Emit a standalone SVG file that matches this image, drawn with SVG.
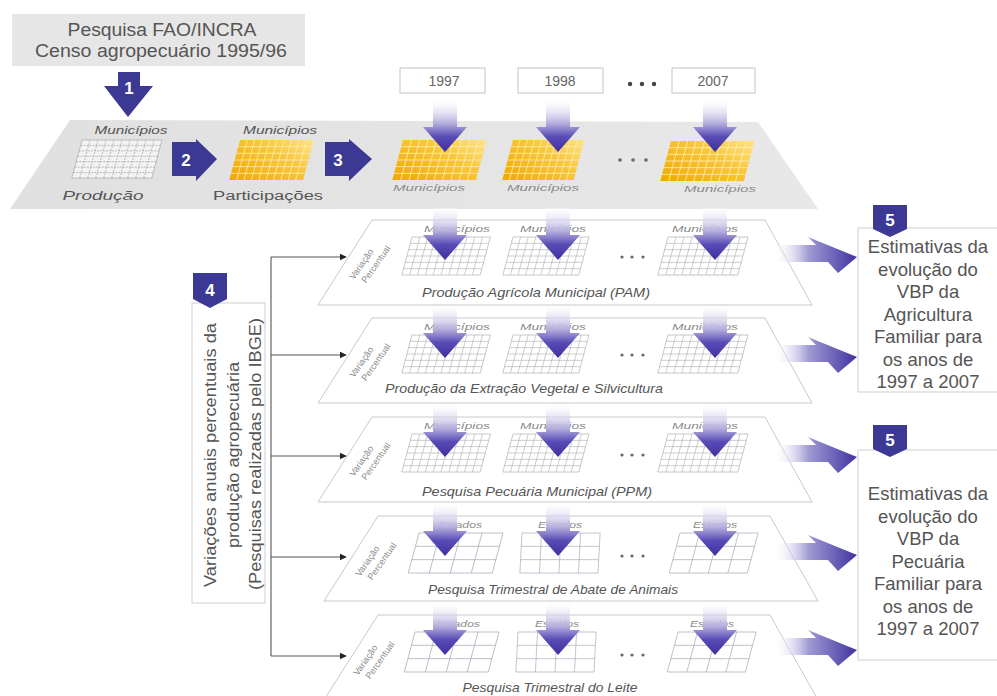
<svg xmlns="http://www.w3.org/2000/svg" xmlns:xlink="http://www.w3.org/1999/xlink" width="997" height="696" viewBox="0 0 997 696">
<style>
text{font-family:"Liberation Sans",Arial,sans-serif;fill:#555}
.num{font-weight:bold;fill:#fff;font-size:17px;text-anchor:middle}
.blk{fill:#3b3994}
.plane{fill:#fff;stroke:#c9c9c9;stroke-width:1}
.lbl{font-style:italic;font-size:13px;text-anchor:middle;fill:#555}
.sm{font-style:italic;font-size:8.5px;text-anchor:middle;fill:#8a8a8a}
.vp{font-size:9px;fill:#8a8a8a}
.yr{fill:#fff;stroke:#c4c4c4;stroke-width:1}
.yrt{font-size:14px;text-anchor:middle;fill:#666}
.box{fill:#fff;stroke:#cfcfcf;stroke-width:1}
.bt{font-size:18.5px;text-anchor:middle;fill:#555}
.con{stroke:#555;stroke-width:1.1;fill:none}
.dot{fill:#666}
</style>
<defs>
<linearGradient id="gDown" x1="0" y1="0" x2="0" y2="1">
<stop offset="0" stop-color="#ffffff" stop-opacity="0.3"/>
<stop offset="0.45" stop-color="#b4aedd"/>
<stop offset="0.7" stop-color="#5a4cb6"/>
<stop offset="1" stop-color="#3e2f9f"/>
</linearGradient>
<linearGradient id="gRight" x1="0" y1="0" x2="1" y2="0">
<stop offset="0" stop-color="#ffffff" stop-opacity="0.2"/>
<stop offset="0.4" stop-color="#a19bd4"/>
<stop offset="1" stop-color="#3f32a0"/>
</linearGradient>
<linearGradient id="gOrange" x1="0" y1="1" x2="1" y2="0">
<stop offset="0" stop-color="#f0a800"/>
<stop offset="0.6" stop-color="#f8c63a"/>
<stop offset="1" stop-color="#ffe38a"/>
</linearGradient>
<linearGradient id="gPlane" x1="0" y1="0" x2="1" y2="0">
<stop offset="0" stop-color="#e0e0e0"/>
<stop offset="1" stop-color="#e8e8e8"/>
</linearGradient>
<g id="fineGrid">
<rect x="0" y="0" width="80" height="38" fill="#fff" stroke="#a8a8a8" stroke-width="0.6"/>
<path d="M8 0V38M16 0V38M24 0V38M32 0V38M40 0V38M48 0V38M56 0V38M64 0V38M72 0V38M0 6.33H80M0 12.67H80M0 19H80M0 25.33H80M0 31.67H80" stroke="#b0b0b0" stroke-width="0.6" fill="none"/>
</g>
<g id="grayGrid">
<rect x="0" y="0" width="80" height="38" fill="#f3f3f3" stroke="#a0a0a0" stroke-width="0.6"/>
<path d="M8 0V38M16 0V38M24 0V38M32 0V38M40 0V38M48 0V38M56 0V38M64 0V38M72 0V38M0 5.43H80M0 10.86H80M0 16.29H80M0 21.71H80M0 27.14H80M0 32.57H80" stroke="#9c9c9c" stroke-width="0.6" stroke-dasharray="2 1" fill="none"/>
</g>
<g id="orangeGrid">
<rect x="0" y="0" width="82" height="40" fill="url(#gOrange)"/>
<path d="M8.2 0V40M16.4 0V40M24.6 0V40M32.8 0V40M41 0V40M49.2 0V40M57.4 0V40M65.6 0V40M73.8 0V40M0 6.67H82M0 13.33H82M0 20H82M0 26.67H82M0 33.33H82" stroke="#ffeeb0" stroke-width="0.8" fill="none"/>
</g>
<g id="coarseGrid">
<rect x="0" y="0" width="84" height="40" fill="#fff" stroke="#a8a8b8" stroke-width="0.7"/>
<path d="M21 0V40M42 0V40M63 0V40M0 13.33H84M0 26.67H84" stroke="#a8a8b8" stroke-width="0.7" fill="none"/>
</g>
<g id="dArrow"><polygon points="-12,0 12,0 12,27 22,27 0,52 -22,27 -12,27" fill="url(#gDown)"/></g>
<g id="rArrow"><path d="M776 -12 L816 -12 L808 -20 L857 0 L838 16 L828 5 L776 5 Z" fill="url(#gRight)"/></g>
<g id="vpLabel"><text class="vp" transform="rotate(-55)"><tspan x="0" y="0">Variação</tspan><tspan x="4" y="12">Percentual</tspan></text></g>
<marker id="ah" viewBox="0 0 10 10" refX="9" refY="5" markerWidth="7" markerHeight="7" orient="auto" markerUnits="userSpaceOnUse">
<path d="M0 0L10 5L0 10Z" fill="#222"/>
</marker>
</defs>

<g id="source">
<rect x="12" y="14" width="293" height="52" fill="#e6e6e6"/>
<text x="162" y="36" font-size="17.5" text-anchor="middle" fill="#5a5a5a" textLength="189" lengthAdjust="spacingAndGlyphs">Pesquisa FAO/INCRA</text>
<text x="161" y="57" font-size="17.5" text-anchor="middle" fill="#5a5a5a" textLength="252" lengthAdjust="spacingAndGlyphs">Censo agropecuário 1995/96</text>
</g>

<g id="top-plane">
<polygon points="70,120 758,122 818,209 10,209" fill="url(#gPlane)"/>
<use xlink:href="#grayGrid" href="#grayGrid" transform="translate(82,140) skewX(-15)"/>
<text x="131" y="134" font-size="11" font-style="italic" text-anchor="middle" fill="#606060" textLength="73" lengthAdjust="spacingAndGlyphs">Municípios</text>
<text x="103" y="200" font-size="12" font-style="italic" text-anchor="middle" fill="#606060" textLength="81" lengthAdjust="spacingAndGlyphs">Produção</text>
<use xlink:href="#orangeGrid" href="#orangeGrid" transform="translate(240,140) skewX(-15) scale(0.9,1)"/>
<text x="280" y="134" font-size="11" font-style="italic" text-anchor="middle" fill="#606060" textLength="74" lengthAdjust="spacingAndGlyphs">Municípios</text>
<text x="268" y="200" font-size="12" text-anchor="middle" fill="#606060" textLength="110" lengthAdjust="spacingAndGlyphs">Participações</text>
<use xlink:href="#orangeGrid" href="#orangeGrid" transform="translate(403,140) skewX(-15) scale(1.02,1)"/>
<use xlink:href="#orangeGrid" href="#orangeGrid" transform="translate(513,140) skewX(-15) scale(0.87,1)"/>
<use xlink:href="#orangeGrid" href="#orangeGrid" transform="translate(671,141) skewX(-15) scale(1.02,1)"/>
<text class="sm" x="429" y="191" textLength="72" lengthAdjust="spacingAndGlyphs">Municípios</text>
<text class="sm" x="543" y="191" textLength="72" lengthAdjust="spacingAndGlyphs">Municípios</text>
<text class="sm" x="720" y="192" textLength="72" lengthAdjust="spacingAndGlyphs">Municípios</text>
<circle class="dot" cx="620" cy="160" r="1.8"/><circle class="dot" cx="633" cy="160" r="1.8"/><circle class="dot" cx="646" cy="160" r="1.8"/>
</g>

<g id="years">
<rect class="yr" x="400" y="68" width="85" height="25"/>
<text class="yrt" x="444" y="86">1997</text>
<rect class="yr" x="518" y="68" width="85" height="25"/>
<text class="yrt" x="560" y="86">1998</text>
<rect class="yr" x="672" y="68" width="83" height="25"/>
<text class="yrt" x="713" y="86">2007</text>
<circle cx="630" cy="84" r="2.2" fill="#444"/><circle cx="642" cy="84" r="2.2" fill="#444"/><circle cx="654" cy="84" r="2.2" fill="#444"/>
</g>

<g id="layer-pam">
<polygon class="plane" points="372,220 765,220 812,305 318,305"/>
<use xlink:href="#fineGrid" href="#fineGrid" transform="translate(412,237) skewX(-15) scale(0.98,1)"/>
<use xlink:href="#fineGrid" href="#fineGrid" transform="translate(513,237) skewX(-15) scale(0.95,1)"/>
<use xlink:href="#fineGrid" href="#fineGrid" transform="translate(668,237) skewX(-15)"/>
<text class="sm" x="457" y="232" textLength="66" lengthAdjust="spacingAndGlyphs">Municípios</text><text class="sm" x="553" y="232" textLength="66" lengthAdjust="spacingAndGlyphs">Municípios</text><text class="sm" x="705" y="232" textLength="66" lengthAdjust="spacingAndGlyphs">Municípios</text>
<use xlink:href="#vpLabel" href="#vpLabel" transform="translate(354,280)"/>
<circle class="dot" cx="622" cy="257" r="1.6"/><circle class="dot" cx="632" cy="257" r="1.6"/><circle class="dot" cx="643" cy="257" r="1.6"/>
<text class="lbl" x="536" y="297" textLength="228" lengthAdjust="spacingAndGlyphs">Produção Agrícola Municipal (PAM)</text>
</g>

<g id="layer-pevs">
<polygon class="plane" points="372,318 765,318 812,403 318,403"/>
<use xlink:href="#fineGrid" href="#fineGrid" transform="translate(412,335) skewX(-15) scale(0.98,1)"/>
<use xlink:href="#fineGrid" href="#fineGrid" transform="translate(513,335) skewX(-15) scale(0.95,1)"/>
<use xlink:href="#fineGrid" href="#fineGrid" transform="translate(668,335) skewX(-15)"/>
<text class="sm" x="457" y="330" textLength="66" lengthAdjust="spacingAndGlyphs">Municípios</text><text class="sm" x="553" y="330" textLength="66" lengthAdjust="spacingAndGlyphs">Municípios</text><text class="sm" x="705" y="330" textLength="66" lengthAdjust="spacingAndGlyphs">Municípios</text>
<use xlink:href="#vpLabel" href="#vpLabel" transform="translate(354,378)"/>
<circle class="dot" cx="622" cy="355" r="1.6"/><circle class="dot" cx="632" cy="355" r="1.6"/><circle class="dot" cx="643" cy="355" r="1.6"/>
<text class="lbl" x="524" y="393" textLength="278" lengthAdjust="spacingAndGlyphs">Produção da Extração Vegetal e Silvicultura</text>
</g>

<g id="layer-ppm">
<polygon class="plane" points="372,417 765,417 812,502 318,502"/>
<use xlink:href="#fineGrid" href="#fineGrid" transform="translate(412,434) skewX(-15) scale(0.98,1)"/>
<use xlink:href="#fineGrid" href="#fineGrid" transform="translate(513,434) skewX(-15) scale(0.95,1)"/>
<use xlink:href="#fineGrid" href="#fineGrid" transform="translate(668,434) skewX(-15)"/>
<text class="sm" x="457" y="429" textLength="66" lengthAdjust="spacingAndGlyphs">Municípios</text><text class="sm" x="553" y="429" textLength="66" lengthAdjust="spacingAndGlyphs">Municípios</text><text class="sm" x="705" y="429" textLength="66" lengthAdjust="spacingAndGlyphs">Municípios</text>
<use xlink:href="#vpLabel" href="#vpLabel" transform="translate(354,477)"/>
<circle class="dot" cx="622" cy="455" r="1.6"/><circle class="dot" cx="632" cy="455" r="1.6"/><circle class="dot" cx="643" cy="455" r="1.6"/>
<text class="lbl" x="537" y="496" textLength="230" lengthAdjust="spacingAndGlyphs">Pesquisa Pecuária Municipal (PPM)</text>
</g>

<g id="layer-abate">
<polygon class="plane" points="378,516 770,516 818,601 324,601"/>
<use xlink:href="#coarseGrid" href="#coarseGrid" transform="translate(419,533) skewX(-15)"/>
<use xlink:href="#coarseGrid" href="#coarseGrid" transform="translate(522,533) skewX(-3) scale(0.93,1)"/>
<use xlink:href="#coarseGrid" href="#coarseGrid" transform="translate(680,533) skewX(-15) scale(0.93,1)"/>
<text class="sm" x="460" y="528" textLength="44" lengthAdjust="spacingAndGlyphs">Estados</text><text class="sm" x="560" y="528" textLength="44" lengthAdjust="spacingAndGlyphs">Estados</text><text class="sm" x="715" y="528" textLength="44" lengthAdjust="spacingAndGlyphs">Estados</text>
<use xlink:href="#vpLabel" href="#vpLabel" transform="translate(360,577)"/>
<circle class="dot" cx="622" cy="556" r="1.6"/><circle class="dot" cx="632" cy="556" r="1.6"/><circle class="dot" cx="643" cy="556" r="1.6"/>
<text class="lbl" x="553" y="594" textLength="250" lengthAdjust="spacingAndGlyphs">Pesquisa Trimestral de Abate de Animais</text>
</g>

<g id="layer-leite">
<polygon class="plane" points="378,615 770,615 818,700 324,700"/>
<use xlink:href="#coarseGrid" href="#coarseGrid" transform="translate(415,632) skewX(-15)"/>
<use xlink:href="#coarseGrid" href="#coarseGrid" transform="translate(518,632) skewX(-3) scale(0.93,1)"/>
<use xlink:href="#coarseGrid" href="#coarseGrid" transform="translate(678,632) skewX(-15) scale(0.93,1)"/>
<text class="sm" x="458" y="627" textLength="44" lengthAdjust="spacingAndGlyphs">Estados</text><text class="sm" x="557" y="627" textLength="44" lengthAdjust="spacingAndGlyphs">Estados</text><text class="sm" x="712" y="627" textLength="44" lengthAdjust="spacingAndGlyphs">Estados</text>
<use xlink:href="#vpLabel" href="#vpLabel" transform="translate(358,676)"/>
<circle class="dot" cx="622" cy="655" r="1.6"/><circle class="dot" cx="632" cy="655" r="1.6"/><circle class="dot" cx="643" cy="655" r="1.6"/>
<text class="lbl" x="550" y="692" textLength="175" lengthAdjust="spacingAndGlyphs">Pesquisa Trimestral do Leite</text>
</g>

<g id="step4">
<rect class="box" x="192" y="303" width="73" height="300"/>
<path class="blk" d="M193 273h34v26l-17 9l-17-9z"/>
<text class="num" x="210" y="296">4</text>
<text font-size="16.5" text-anchor="middle" fill="#5a5a5a" transform="translate(216,455) rotate(-90)" textLength="264" lengthAdjust="spacingAndGlyphs">Variações anuais percentuais da</text>
<text font-size="16.5" text-anchor="middle" fill="#5a5a5a" transform="translate(239,455) rotate(-90)" textLength="186" lengthAdjust="spacingAndGlyphs">produção agropecuária</text>
<text font-size="16.5" text-anchor="middle" fill="#5a5a5a" transform="translate(261,454) rotate(-90)" textLength="272" lengthAdjust="spacingAndGlyphs">(Pesquisas realizadas pelo IBGE)</text>
</g>

<g id="step5-agricultura">
<rect class="box" x="858" y="228" width="150" height="164"/>
<path class="blk" d="M873 205h34v24l-17 8l-17-8z"/>
<text class="num" x="890" y="226">5</text>
<text class="bt" x="928" y="253">Estimativas da</text>
<text class="bt" x="928" y="275.5">evolução do</text>
<text class="bt" x="928" y="298">VBP da</text>
<text class="bt" x="928" y="320.5">Agricultura</text>
<text class="bt" x="928" y="343">Familiar para</text>
<text class="bt" x="928" y="365.5">os anos de</text>
<text class="bt" x="928" y="388">1997 a 2007</text>
</g>

<g id="step5-pecuaria">
<rect class="box" x="858" y="450" width="150" height="210"/>
<path class="blk" d="M873 425h34v24l-17 8l-17-8z"/>
<text class="num" x="890" y="446">5</text>
<text class="bt" x="928" y="500">Estimativas da</text>
<text class="bt" x="928" y="522.5">evolução do</text>
<text class="bt" x="928" y="545">VBP da</text>
<text class="bt" x="928" y="567.5">Pecuária</text>
<text class="bt" x="928" y="590">Familiar para</text>
<text class="bt" x="928" y="612.5">os anos de</text>
<text class="bt" x="928" y="635">1997 a 2007</text>
</g>

<g id="connectors">
<polygon class="blk" points="118,72 140,72 140,86 153,86 128,117 104,86 118,86"/>
<text class="num" x="129" y="94">1</text>
<polygon class="blk" points="172,142 196,142 196,139 217,159 196,181 196,176 172,176"/>
<text class="num" x="186" y="166">2</text>
<polygon class="blk" points="325,142 349,142 349,139 372,159 349,181 349,176 325,176"/>
<text class="num" x="338" y="166">3</text>

<use xlink:href="#dArrow" href="#dArrow" transform="translate(445,100)"/>
<use xlink:href="#dArrow" href="#dArrow" transform="translate(558,100)"/>
<use xlink:href="#dArrow" href="#dArrow" transform="translate(715,100)"/>

<use xlink:href="#dArrow" href="#dArrow" transform="translate(445,208)"/>
<use xlink:href="#dArrow" href="#dArrow" transform="translate(558,208)"/>
<use xlink:href="#dArrow" href="#dArrow" transform="translate(715,208)"/>
<use xlink:href="#dArrow" href="#dArrow" transform="translate(445,306)"/>
<use xlink:href="#dArrow" href="#dArrow" transform="translate(558,306)"/>
<use xlink:href="#dArrow" href="#dArrow" transform="translate(715,306)"/>
<use xlink:href="#dArrow" href="#dArrow" transform="translate(445,405)"/>
<use xlink:href="#dArrow" href="#dArrow" transform="translate(558,405)"/>
<use xlink:href="#dArrow" href="#dArrow" transform="translate(715,405)"/>
<use xlink:href="#dArrow" href="#dArrow" transform="translate(445,504)"/>
<use xlink:href="#dArrow" href="#dArrow" transform="translate(558,504)"/>
<use xlink:href="#dArrow" href="#dArrow" transform="translate(715,504)"/>
<use xlink:href="#dArrow" href="#dArrow" transform="translate(445,603)"/>
<use xlink:href="#dArrow" href="#dArrow" transform="translate(558,603)"/>
<use xlink:href="#dArrow" href="#dArrow" transform="translate(715,603)"/>

<use xlink:href="#rArrow" href="#rArrow" transform="translate(0,257)"/>
<use xlink:href="#rArrow" href="#rArrow" transform="translate(0,357)"/>
<use xlink:href="#rArrow" href="#rArrow" transform="translate(0,457)"/>
<use xlink:href="#rArrow" href="#rArrow" transform="translate(0,555)"/>
<use xlink:href="#rArrow" href="#rArrow" transform="translate(0,650)"/>

<path class="con" d="M271 257V656"/>
<path class="con" d="M271 257H346" marker-end="url(#ah)"/>
<path class="con" d="M271 355H346" marker-end="url(#ah)"/>
<path class="con" d="M271 456H346" marker-end="url(#ah)"/>
<path class="con" d="M271 557H346" marker-end="url(#ah)"/>
<path class="con" d="M271 656H346" marker-end="url(#ah)"/>
</g>
</svg>
